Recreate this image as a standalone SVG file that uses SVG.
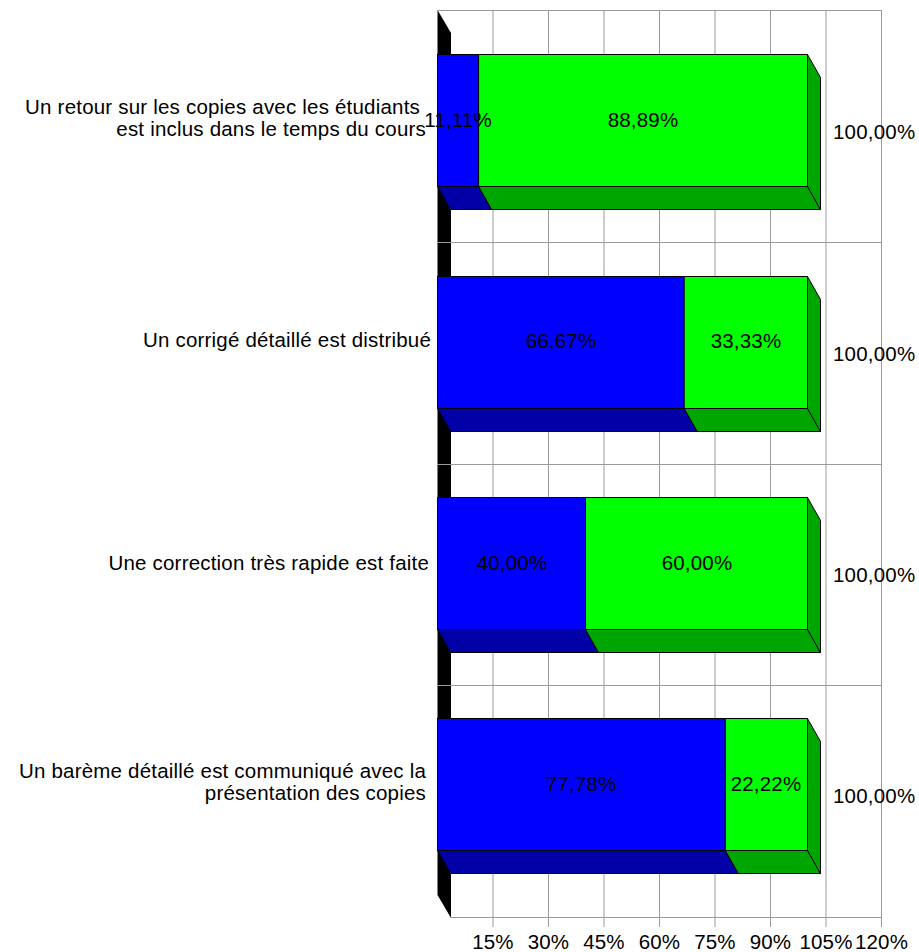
<svg xmlns="http://www.w3.org/2000/svg" width="919" height="952" viewBox="0 0 919 952">
<style>
text{font-family:"Liberation Sans",Arial,sans-serif;font-size:20.5px;letter-spacing:0.2px;fill:#000}
.grid{stroke:#9a9a9a;stroke-width:1;fill:none}
.cat{text-anchor:end}
.mid{text-anchor:middle}
.fb{fill:#0000FF;stroke:#000;stroke-width:1}
.db{fill:#0000A6;stroke:#000;stroke-width:1}
.fg{fill:#00FF00;stroke:#000;stroke-width:1}
.dg{fill:#00A600;stroke:#000;stroke-width:1}
</style>
<rect width="919" height="952" fill="#fff"/>
<g id="walls">
<polygon points="437.5,10 451,33 451,918 437.5,895" fill="#000"/>
</g>
<g id="gridlines" class="grid">
<line x1="437.5" y1="10.5" x2="881.5" y2="10.5"/>
<line x1="437.5" y1="242.5" x2="881.5" y2="242.5"/>
<line x1="437.5" y1="464.5" x2="881.5" y2="464.5"/>
<line x1="437.5" y1="685.5" x2="881.5" y2="685.5"/>
<line x1="451" y1="917.5" x2="881.5" y2="917.5"/>
<line x1="493" y1="10" x2="493" y2="927"/>
<line x1="548.5" y1="10" x2="548.5" y2="927"/>
<line x1="604" y1="10" x2="604" y2="927"/>
<line x1="659.5" y1="10" x2="659.5" y2="927"/>
<line x1="715" y1="10" x2="715" y2="927"/>
<line x1="770.5" y1="10" x2="770.5" y2="927"/>
<line x1="826" y1="10" x2="826" y2="927"/>
<line x1="881.5" y1="10" x2="881.5" y2="927"/>
</g>
<g id="bar1">
<polygon class="db" points="437.5,186.5 478.6,186.5 491.6,209.5 450.5,209.5"/>
<polygon class="dg" points="478.6,186.5 807.5,186.5 820.5,209.5 491.6,209.5"/>
<polygon class="dg" points="807.5,54.5 820.5,77.5 820.5,209.5 807.5,186.5"/>
<rect class="fb" x="437.5" y="54.5" width="41.1" height="132"/>
<rect class="fg" x="478.6" y="54.5" width="328.9" height="132"/>
<text class="mid" x="458" y="127">11,11%</text>
<text class="mid" x="643" y="127">88,89%</text>
<text x="833" y="139">100,00%</text>
</g>
<g id="bar2">
<polygon class="db" points="437.5,408.5 684.2,408.5 697.2,431.5 450.5,431.5"/>
<polygon class="dg" points="684.2,408.5 807.5,408.5 820.5,431.5 697.2,431.5"/>
<polygon class="dg" points="807.5,276.5 820.5,299.5 820.5,431.5 807.5,408.5"/>
<rect class="fb" x="437.5" y="276.5" width="246.7" height="132"/>
<rect class="fg" x="684.2" y="276.5" width="123.3" height="132"/>
<text class="mid" x="561" y="348">66,67%</text>
<text class="mid" x="746" y="348">33,33%</text>
<text x="833" y="361">100,00%</text>
</g>
<g id="bar3">
<polygon class="db" points="437.5,629.5 585.5,629.5 598.5,652.5 450.5,652.5"/>
<polygon class="dg" points="585.5,629.5 807.5,629.5 820.5,652.5 598.5,652.5"/>
<polygon class="dg" points="807.5,497.5 820.5,520.5 820.5,652.5 807.5,629.5"/>
<rect class="fb" x="437.5" y="497.5" width="148" height="132"/>
<rect class="fg" x="585.5" y="497.5" width="222" height="132"/>
<text class="mid" x="512" y="570">40,00%</text>
<text class="mid" x="697" y="570">60,00%</text>
<text x="833" y="582">100,00%</text>
</g>
<g id="bar4">
<polygon class="db" points="437.5,850.5 725.3,850.5 738.3,873.5 450.5,873.5"/>
<polygon class="dg" points="725.3,850.5 807.5,850.5 820.5,873.5 738.3,873.5"/>
<polygon class="dg" points="807.5,718.5 820.5,741.5 820.5,873.5 807.5,850.5"/>
<rect class="fb" x="437.5" y="718.5" width="287.8" height="132"/>
<rect class="fg" x="725.3" y="718.5" width="82.2" height="132"/>
<text class="mid" x="581" y="791">77,78%</text>
<text class="mid" x="766" y="791">22,22%</text>
<text x="833" y="803">100,00%</text>
</g>
<g id="category-labels">
<text class="cat" x="420" y="114">Un retour sur les copies avec les étudiants</text>
<text class="cat" x="426" y="136">est inclus dans le temps du cours</text>
<text class="cat" x="431" y="347">Un corrigé détaillé est distribué</text>
<text class="cat" x="429" y="570">Une correction très rapide est faite</text>
<text class="cat" x="426" y="778">Un barème détaillé est communiqué avec la</text>
<text class="cat" x="426" y="800">présentation des copies</text>
</g>
<g id="axis-labels">
<text class="mid" x="493" y="949">15%</text>
<text class="mid" x="548.5" y="949">30%</text>
<text class="mid" x="604" y="949">45%</text>
<text class="mid" x="659.5" y="949">60%</text>
<text class="mid" x="715" y="949">75%</text>
<text class="mid" x="770.5" y="949">90%</text>
<text class="mid" x="826" y="949">105%</text>
<text class="mid" x="881.5" y="949">120%</text>
</g>
</svg>
